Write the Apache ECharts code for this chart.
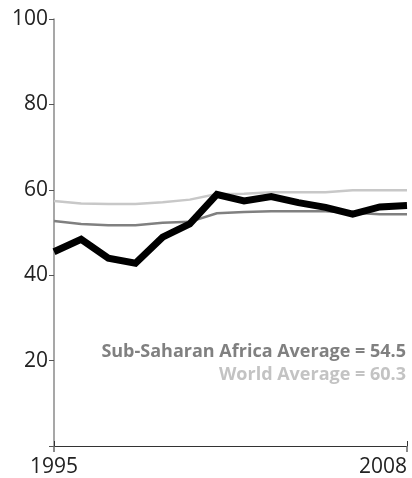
<!DOCTYPE html>
<html><head><meta charset="utf-8">
<script src="https://cdn.jsdelivr.net/npm/echarts@6/dist/echarts.min.js"></script>
<style>html,body{margin:0;padding:0;background:#fff}#c{width:412px;height:478px}</style>
</head><body><div id="c"></div>
<script>
const years = ['1995','1996','1997','1998','1999','2000','2001','2002','2003','2004','2005','2006','2007','2008'];
const country = [45.5,48.4,44.0,42.8,48.9,52.0,58.9,57.4,58.4,57.0,55.9,54.3,56.0,56.3];
const ssaAvg = [52.7,52.0,51.7,51.7,52.3,52.5,54.5,54.8,55.0,55.0,55.0,54.6,54.3,54.3];
const worldAvg = [57.4,56.8,56.7,56.7,57.1,57.7,59.0,59.1,59.4,59.4,59.4,59.9,59.9,59.9];
const yTicks = [20,40,60,80,100];
const notes = ['Sub-Saharan Africa Average = 54.5','World Average = 60.3'];

const chart = echarts.init(document.getElementById('c'));
const font = 'Open Sans';
chart.setOption({
  animation:false,
  grid:{left:54,right:5,top:19,bottom:32,containLabel:false},
  xAxis:[{
    type:'category',data:years,boundaryGap:false,
    axisLine:{lineStyle:{color:'#333',width:1}},
    axisTick:{inside:true,length:5,lineStyle:{color:'#333'}},
    axisLabel:{interval:(i)=>i===0||i===years.length-1,fontFamily:font,fontSize:21,color:'#222',margin:11,alignMaxLabel:'right'},
    splitLine:{show:false}
  },{
    type:'category',data:years,boundaryGap:false,position:'bottom',
    axisLine:{show:false},
    axisTick:{inside:false,length:6,interval:(i)=>i===0||i===years.length-1,lineStyle:{color:'#666',width:1.5}},
    axisLabel:{show:false},splitLine:{show:false}
  }],
  yAxis:{
    type:'value',min:0,max:100,interval:20,
    axisLine:{show:true,lineStyle:{color:'#8a8a8a',width:1.5}},
    axisTick:{show:true,length:5,lineStyle:{color:'#555'}},
    axisLabel:{fontFamily:font,fontSize:21,color:'#222',margin:6,
      formatter:(v)=>yTicks.includes(v)?String(v):''},
    splitLine:{show:false}
  },
  series:[
    {type:'line',data:worldAvg,showSymbol:false,lineStyle:{color:'#c8c8c8',width:2.5},z:1},
    {type:'line',data:ssaAvg,showSymbol:false,lineStyle:{color:'#808080',width:2.5},z:2},
    {type:'line',data:country,showSymbol:false,lineStyle:{color:'#000',width:7,join:'miter'},z:3}
  ],
  graphic:[
    {type:'text',right:6,top:343,style:{text:notes[0],font:'bold 18px "Open Sans"',fill:'#808080',textAlign:'right'}},
    {type:'text',right:6,top:366,style:{text:notes[1],font:'bold 18px "Open Sans"',fill:'#c3c3c3',textAlign:'right'}}
  ]
});
</script></body></html>
